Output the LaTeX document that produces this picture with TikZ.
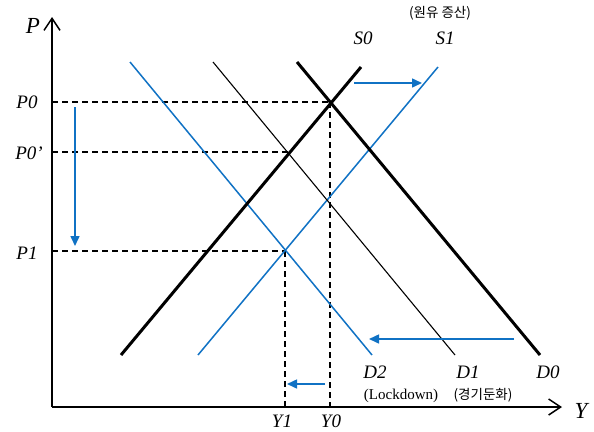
\documentclass[tikz,border=0pt]{standalone}
\usepackage{fontspec}
\setmainfont{Liberation Serif}
\newfontfamily\kr{Noto Sans CJK KR}
\usetikzlibrary{arrows.meta}
\definecolor{oblue}{RGB}{16,114,196}
\begin{document}
\begin{tikzpicture}[x=1pt,y=-1pt,
  axis/.style={line width=1.5pt,-{Straight Barb[length=12pt,width=16pt,line width=1.5pt]}},
  thickline/.style={line width=3pt},
  thinline/.style={line width=1.1pt},
  blueline/.style={line width=1.5pt,oblue},
  guide/.style={line width=1.2pt,dash pattern=on 6pt off 4pt},
  bluearrow/.style={line width=1.5pt,oblue,-{Triangle[length=10pt,width=9pt]}},
  lab/.style={font=\fontsize{19}{19}\selectfont\itshape,inner sep=0pt},
  big/.style={font=\fontsize{23}{23}\selectfont\itshape,inner sep=0pt},
  small/.style={font=\fontsize{15}{15}\selectfont,inner sep=0pt},
  krs/.style={font=\fontsize{13.5}{14}\selectfont\kr,inner sep=0pt}]
\useasboundingbox (0,0) rectangle (594,431);
% axes
\coordinate (O) at (52,407);
\coordinate (Ptop) at (52,17);
\coordinate (Yend) at (562,407);
\draw[axis] (O) -- (Ptop);
\draw[axis] (O) -- (Yend);
% curve endpoints
\coordinate (s0a) at (121,355); \coordinate (s0b) at (361,67);
\coordinate (s1a) at (198,355); \coordinate (s1b) at (438,67);
\coordinate (d0a) at (297,62);  \coordinate (d0b) at (540,355);
\coordinate (d1a) at (213,62);  \coordinate (d1b) at (455,355);
\coordinate (d2a) at (130,62);  \coordinate (d2b) at (372,355);
% intersections
\coordinate (E0) at (330,102);
\coordinate (E0p) at (288,152);
\coordinate (E1) at (285,251);
% dashed guides
\coordinate (yP0) at (52,102);
\coordinate (yP0p) at (52,152);
\coordinate (yP1) at (52,251);
\coordinate (xY0) at (330,407);
\coordinate (xY1) at (285,407);
\draw[guide] (yP0) -- (E0);
\draw[guide] (yP0p) -- (E0p);
\draw[guide] (yP1) -- (E1);
\draw[guide] (E0) -- (xY0);
\draw[guide] (E1) -- (xY1);
% lines
\draw[blueline] (d2a) -- (d2b);
\draw[blueline] (s1a) -- (s1b);
\draw[thinline] (d1a) -- (d1b);
\draw[thickline] (s0a) -- (s0b);
\draw[thickline] (d0a) -- (d0b);
% blue arrows
\coordinate (a1s) at (75,107); \coordinate (a1e) at (75,246);
\coordinate (a2s) at (354,83); \coordinate (a2e) at (422,83);
\coordinate (a3s) at (514,339); \coordinate (a3e) at (369,339);
\coordinate (a4s) at (325,384); \coordinate (a4e) at (287,384);
\draw[bluearrow] (a1s) -- (a1e);
\draw[bluearrow] (a2s) -- (a2e);
\draw[bluearrow] (a3s) -- (a3e);
\draw[bluearrow] (a4s) -- (a4e);
% labels
\node[big] (P) at (33,26) {P};
\node[big] (Y) at (581,411) {Y};
\node[lab] (lP0) at (27,102) {P0};
\node[lab] (lP0p) at (29,153) {P0’};
\node[lab] (lP1) at (27,253) {P1};
\node[lab] (lS0) at (363,38) {S0};
\node[lab] (lS1) at (445,38) {S1};
\node[krs] (oil) at (440,13) {(원유 증산)};
\node[lab] (lD2) at (375,372) {D2};
\node[lab] (lD1) at (468,372) {D1};
\node[lab] (lD0) at (548,372) {D0};
\node[small] (lock) at (401,396) {(Lockdown)};
\node[krs] (slow) at (483,395) {(경기둔화)};
\node[lab] (lY1) at (282,421) {Y1};
\node[lab] (lY0) at (331,421) {Y0};
\end{tikzpicture}
\end{document}
